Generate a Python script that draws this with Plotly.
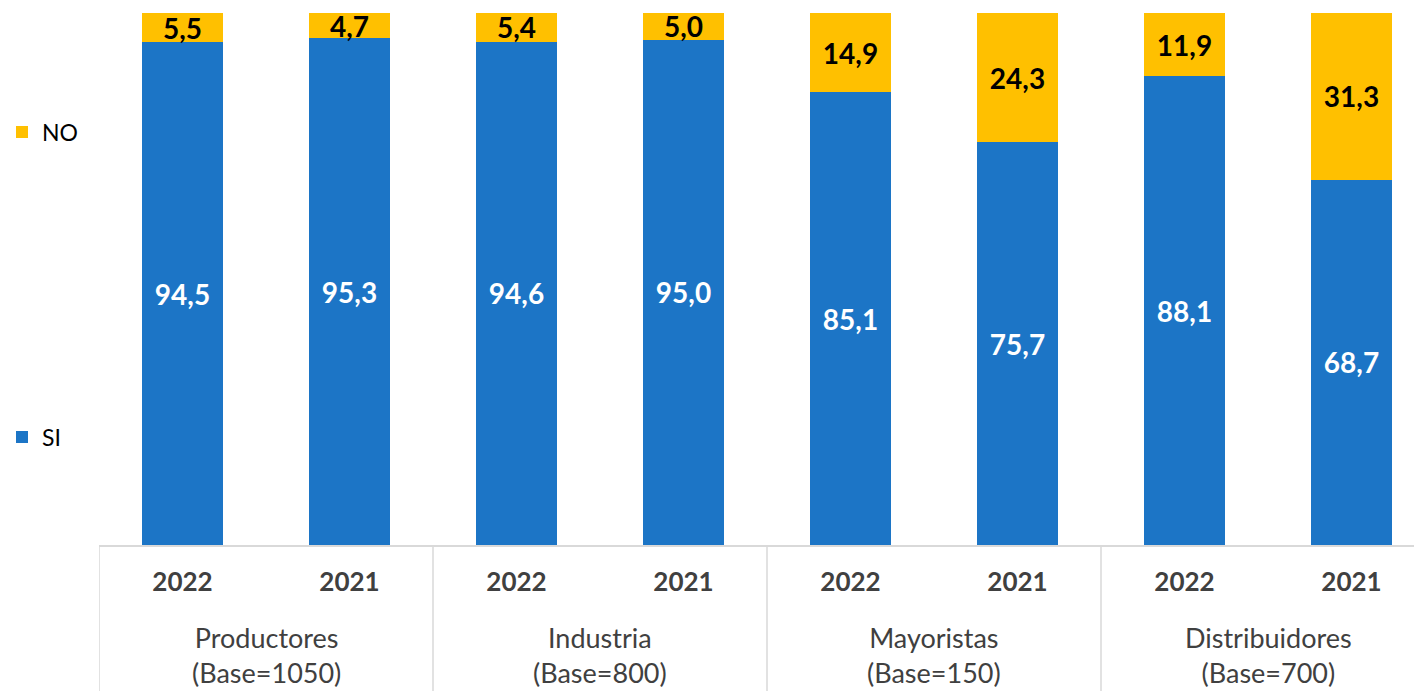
import plotly.graph_objects as go

years = ["2022", "2021", "2022", "2021", "2022", "2021", "2022", "2021"]
groups = ["Productores<br>(Base=1050)", "Industria<br>(Base=800)",
          "Mayoristas<br>(Base=150)", "Distribuidores<br>(Base=700)"]
si_values = [94.5, 95.3, 94.6, 95.0, 85.1, 75.7, 88.1, 68.7]
no_values = [5.5, 4.7, 5.4, 5.0, 14.9, 24.3, 11.9, 31.3]

x_pos = list(range(len(years)))
BLUE = "#1C75C6"
YELLOW = "#FFC000"
FONT = "Lato"

fig = go.Figure()
fig.add_trace(go.Bar(
    x=x_pos, y=si_values, name="SI", marker=dict(color=BLUE, line=dict(width=0)),
    texttemplate="<b>%{y:.1f}</b>", textposition="inside", insidetextanchor="middle",
    textangle=0, constraintext="none",
    textfont=dict(family=FONT, size=28, color="white"), legend="legend2",
    showlegend=True,
))
fig.add_trace(go.Bar(
    x=x_pos, y=no_values, name="NO", marker=dict(color=YELLOW, line=dict(width=0)),
    texttemplate="<b>%{y:.1f}</b>", textposition="inside", insidetextanchor="middle",
    textangle=0, constraintext="none",
    textfont=dict(family=FONT, size=28, color="black"), legend="legend",
    showlegend=True,
))

# page body has an 8px margin; figure is sized so it ends at the window edge
W, H = 1414, 683
ml, mt, mb = 91, 5, 146
plot_h = H - mt - mb
axis_y = H - mb  # pixel row of the x axis in figure coords

annotations = []
for gi, g in enumerate(groups):
    annotations.append(dict(
        x=gi * 2 + 0.5, y=-(647 - axis_y) / plot_h, xref="x", yref="paper",
        text=g, showarrow=False, xanchor="center", yanchor="middle",
        font=dict(family=FONT, size=27, color="#404040"),
    ))

shapes = []
for b in [-0.5, 1.5, 3.5, 5.5, 7.5]:
    shapes.append(dict(type="line", xref="x", yref="paper", x0=b, x1=b,
                       y0=0, y1=-(H - axis_y) / plot_h,
                       line=dict(color="#D9D9D9", width=1.5)))

legend_x = -(ml + 6) / (W - ml)

fig.update_layout(
    width=W, height=H,
    margin=dict(l=ml, r=0, t=mt, b=mb, autoexpand=False),
    barmode="stack", bargap=0.51,
    separators=",.",
    showlegend=True,
    plot_bgcolor="white", paper_bgcolor="white",
    font=dict(family=FONT),
    xaxis=dict(
        range=[-0.5, 7.5 - 13 / 167], tickvals=x_pos,
        ticktext=["<b>%s</b>" % y for y in years],
        tickfont=dict(family=FONT, size=26, color="#404040"),
        showline=True, linecolor="#D9D9D9", linewidth=1.5,
        showgrid=False, zeroline=False, ticks="", ticklabelstandoff=13,
    ),
    yaxis=dict(range=[0, 100], visible=False),
    legend=dict(x=legend_x, y=(axis_y - 124) / plot_h, xanchor="left", yanchor="middle",
                font=dict(family=FONT, size=23, color="black"), bgcolor="rgba(0,0,0,0)"),
    legend2=dict(x=legend_x, y=(axis_y - 429) / plot_h, xanchor="left", yanchor="middle",
                 font=dict(family=FONT, size=23, color="black"), bgcolor="rgba(0,0,0,0)"),
    annotations=annotations,
    shapes=shapes,
)

fig.write_html("out.html")
